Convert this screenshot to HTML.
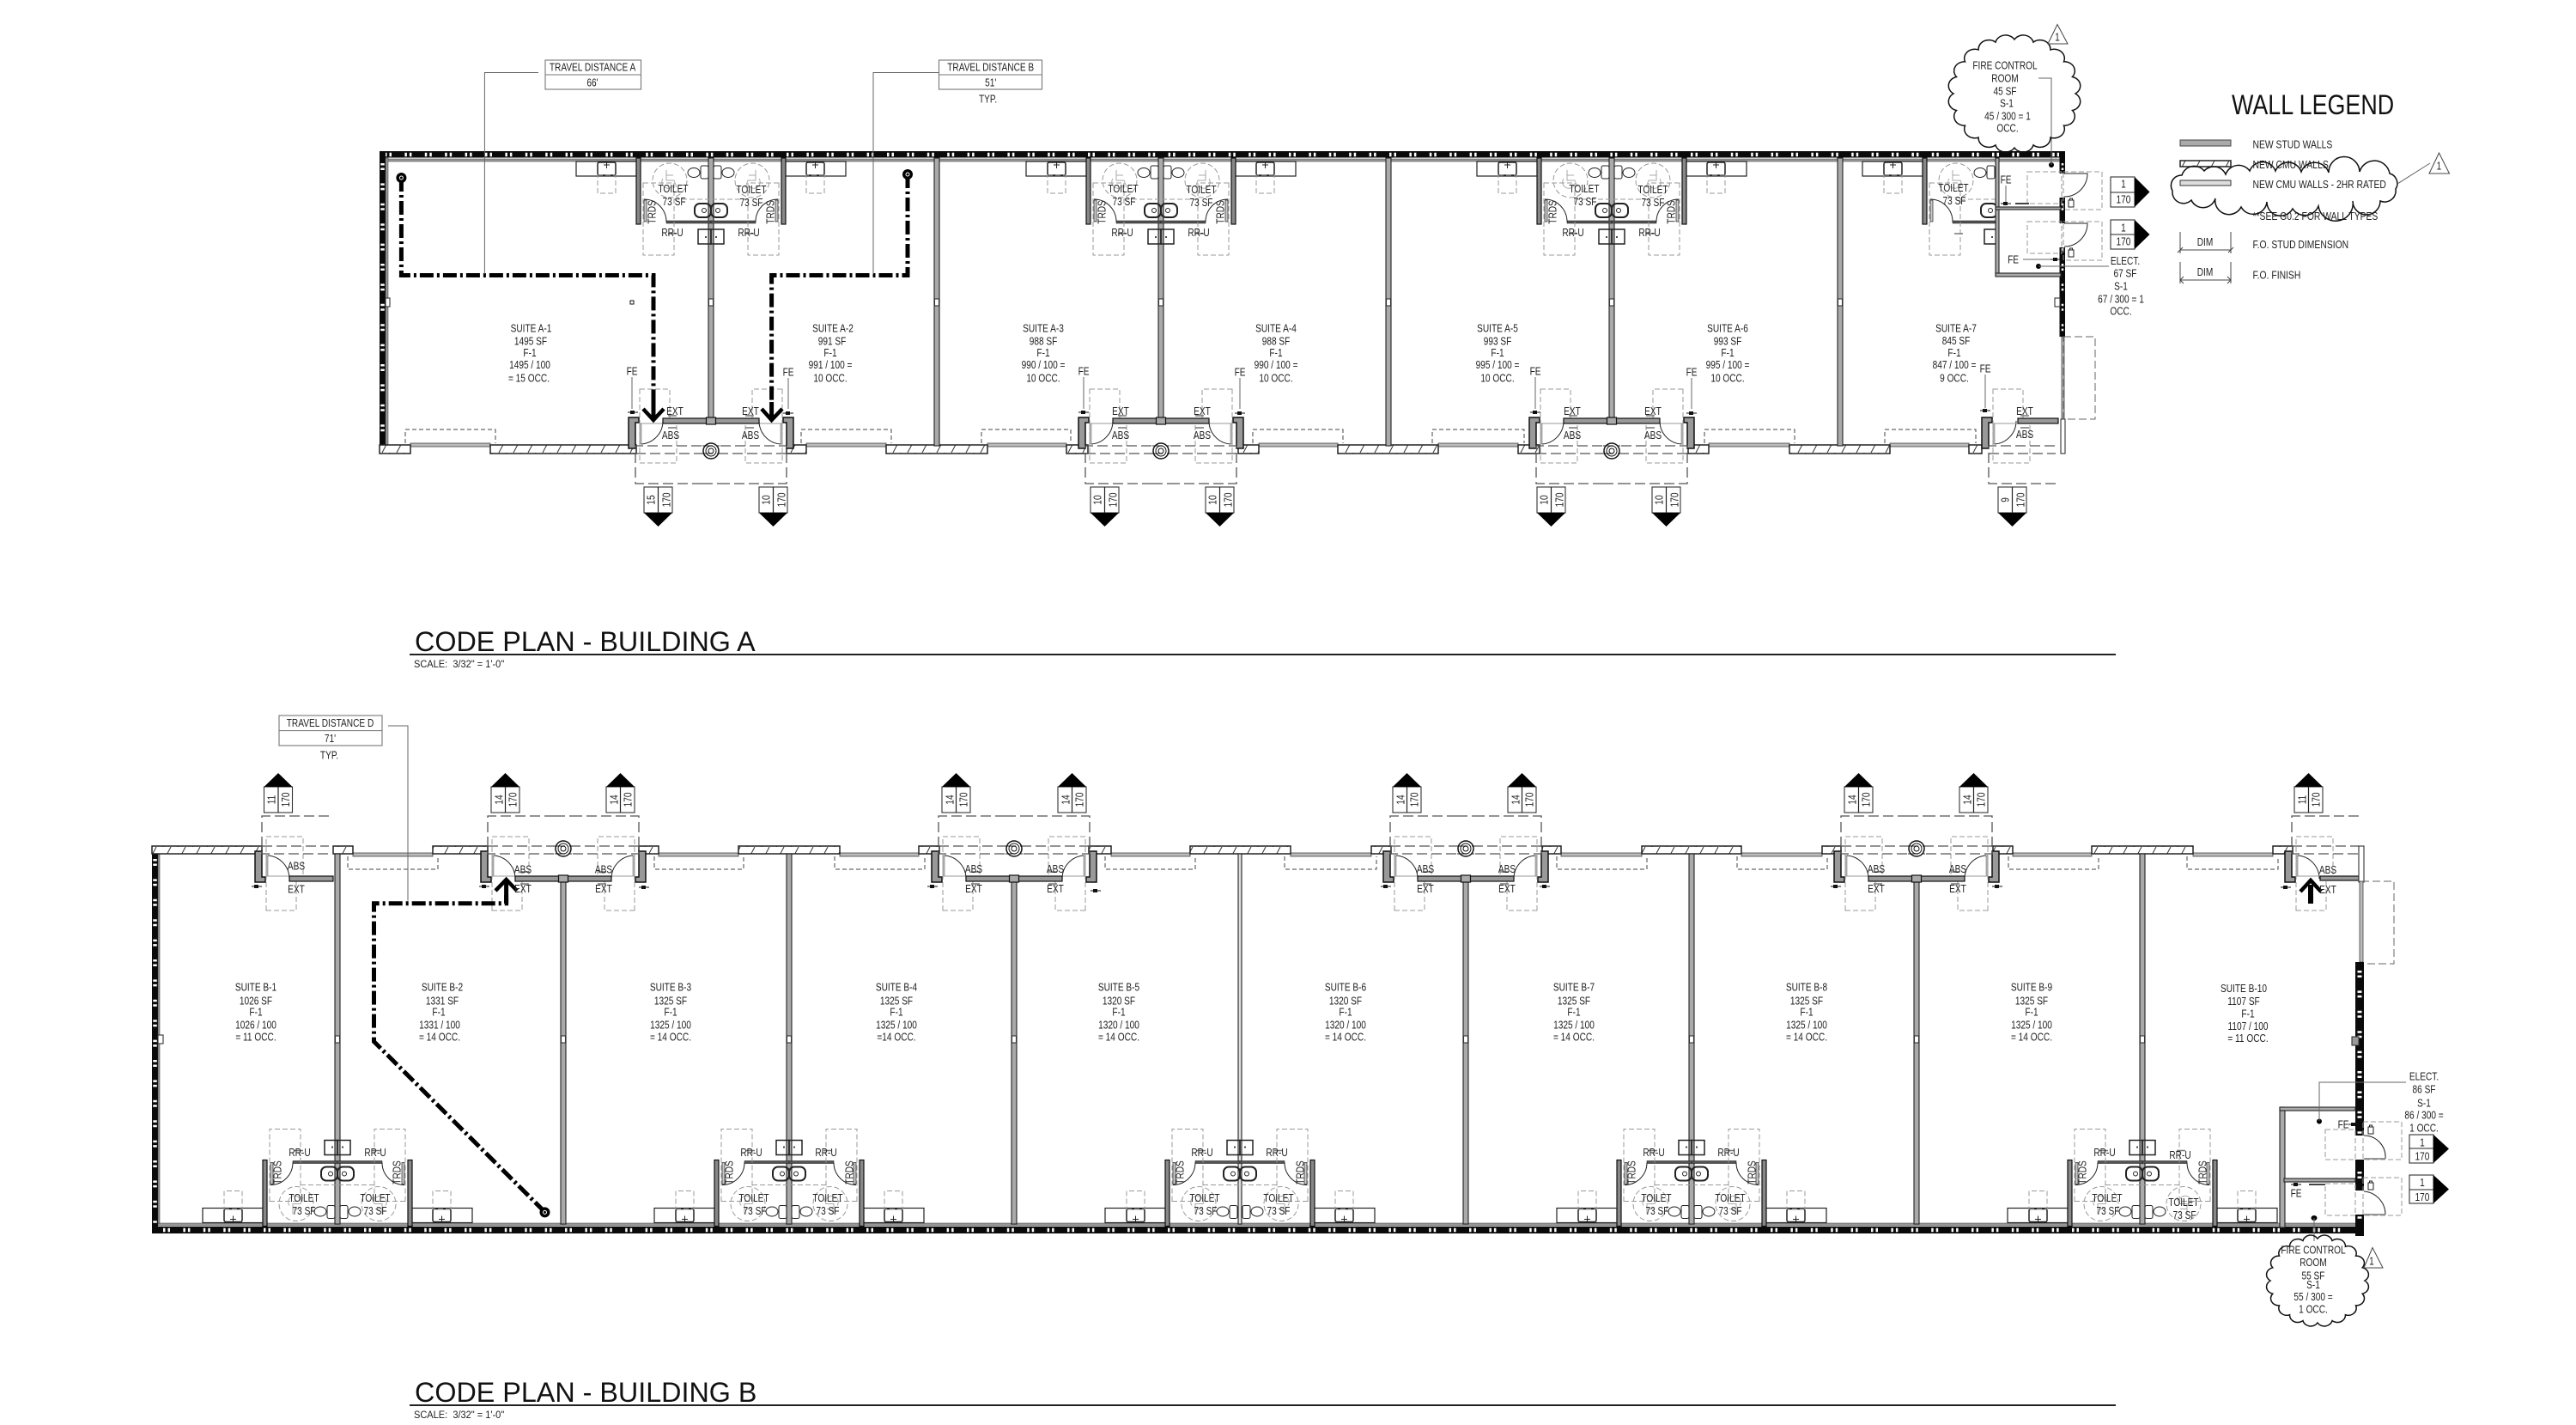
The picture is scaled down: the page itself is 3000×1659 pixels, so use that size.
<!DOCTYPE html>
<html><head><meta charset="utf-8"><title>Code Plan</title>
<style>
html,body{margin:0;padding:0;background:#fff}
svg{display:block}
text{font-family:"Liberation Sans",sans-serif;font-size:12.5px;fill:#222;text-anchor:middle;transform-box:fill-box;transform-origin:50% 50%;transform:scaleX(.81)}
text.l{text-anchor:start;transform-origin:0 50%;transform:scaleX(.83)}
text.big{font-size:32.3px;fill:#111;text-anchor:start;transform:none}
text.wl{font-size:32px;fill:#111;text-anchor:start;transform-origin:0 50%;transform:scaleX(.84)}
text.sc{font-size:12px;text-anchor:start;transform-origin:0 50%;transform:scaleX(.92)}
.d{fill:none;stroke:#999;stroke-width:1;stroke-dasharray:6 3}
.D{fill:none;stroke:#555;stroke-width:1.3;stroke-dasharray:12 5}
.w{fill:none;stroke:#444;stroke-width:1;stroke-dasharray:5 3}
.ln{fill:none;stroke:#222;stroke-width:1}
.ld{fill:none;stroke:#666;stroke-width:1}
.h{fill:url(#hatch);stroke:#222;stroke-width:1.5}
.win{fill:#bbb;stroke:#444;stroke-width:.8}
.wall{fill:#aaa;stroke:#222;stroke-width:1.1}
.blk{fill:#0a0a0a}
.tick{stroke:#fff;stroke-width:4.5;stroke-dasharray:2.5 3 2.5 15.4;fill:none}
.trv{fill:none;stroke:#000;stroke-width:5;stroke-dasharray:16 4 3 4}
.chev{fill:none;stroke:#000;stroke-width:4.5}
.sh{fill:none;stroke:#000;stroke-width:5}
.cl{fill:none;stroke:#111;stroke-width:1.5;vector-effect:non-scaling-stroke}
.bx{fill:#fff;stroke:#333;stroke-width:1.1}
</style></head><body>
<svg xmlns="http://www.w3.org/2000/svg" width="3000" height="1659" viewBox="0 0 3000 1659">
<defs>
<pattern id="hatch" width="17" height="17" patternUnits="userSpaceOnUse"><rect width="17" height="17" fill="#fff"/><path d="M3 17L12 0" stroke="#333" stroke-width="1"/></pattern>
<g id="m"><path d="M-6 0H6" stroke="#111" stroke-width="1"/><rect x="-3" y="-2" width="5" height="4" fill="#111"/></g>
<g id="dL">
<path d="M-96 486h12v6h-4v30h-8z" fill="#999" stroke="#111" stroke-width="1.5"/>
<rect x="-83" y="493" width="2" height="24" fill="#bbb" stroke="#666" stroke-width=".5"/>
<path class="ln" d="M-81 517A27 27 0 0 0 -56 490"/>
<rect class="d" x="-83" y="453" width="35" height="40"/>
<rect class="d" x="-83" y="493" width="43" height="46"/>
<path class="D" d="M-10 563H-88V519H-10M-88 528H-10"/>
</g>
<g id="sf"><rect x="-56" y="487" width="112" height="6" fill="#999" stroke="#111" stroke-width="1.2"/>
<rect x="-5.5" y="486" width="11" height="8" fill="#aaa" stroke="#111" stroke-width="1.2"/>
<path d="M-50 484h10M40 484h10M-50 498h10M40 498h10" stroke="#777" stroke-width="1.5"/>
<path class="D" d="M-10 563H10M-10 519H10M-10 528H10"/>
<g fill="none" stroke="#111"><circle cy="525" r="9" stroke-width="1.5"/><circle cy="525" r="6" stroke-width="1"/><circle cy="525" r="3" stroke-width="1"/></g>
</g>
<g id="sgA"><rect class="bx" width="33" height="30" y="567"/><path d="M16.500 567V597" stroke="#222" stroke-width="1.2"/><path d="M0 597H33L16.500 613z" fill="#000"/></g>
<g id="tL">
<rect x="-87" y="184" width="5" height="77" fill="#888" stroke="#111" stroke-width="1.2"/>
<rect x="-52" y="257" width="52" height="3" fill="#555" stroke="#111" stroke-width=".5"/>
<rect class="ln" x="-157" y="188" width="70" height="17" style="stroke-width:1.2"/>
<rect class="ln" x="-132" y="189" width="21" height="15" rx="2" style="stroke-width:1.5"/>
<path class="ln" d="M-121.500 189v7M-125 192h7"/>
<rect class="d" x="-132" y="204" width="21" height="21"/>
<circle class="d" cx="-48" cy="210" r="20"/>
<path d="M-52 198v12h9l3 8M-52 204h8M-56 208a7 7 0 1 0 12 8" fill="none" stroke="#aaa" stroke-width="1"/>
<ellipse class="ln" cx="-20" cy="201" rx="7" ry="5.500"/>
<rect class="ln" x="-12" y="193" width="9" height="15" rx="2"/>
<rect class="ln" x="-19" y="237" width="19" height="16" rx="6" style="stroke-width:2"/>
<circle class="ln" cx="-8" cy="245" r="2.500"/>
<rect class="ln" x="-15" y="267" width="15" height="17" style="stroke-width:1.500"/><circle cx="-6" cy="276" r="1" fill="#111"/>
<path class="ln" d="M-78 232A26 26 0 0 1 -52 258"/>
<rect x="-78" y="233" width="3" height="25" fill="#ccc" stroke="#222" stroke-width=".7"/>
<rect class="d" x="-79" y="213" width="36" height="84"/>
<path class="d" d="M-43 232H0"/>
<path d="M-50 272h10" stroke="#777" stroke-width="1.500"/>
</g>
<g id="lock"><rect x="-3" y="-4" width="6" height="8" class="ln"/><path class="ln" d="M-1.500 -4v-2h3v2"/></g>
</defs>

<!-- ============= BUILDING A ============= -->
<g id="bldgA">
<rect class="blk" x="442" y="176" width="1963" height="7.500"/>
<line class="tick" x1="448" y1="180" x2="2398" y2="180"/>
<rect class="blk" x="442" y="176" width="7" height="352"/>
<line class="tick" x1="445.500" y1="190" x2="445.500" y2="510"/>
<rect x="449" y="185" width="1950" height="3" fill="#999" stroke="#333" stroke-width=".5"/>
<rect x="449" y="184" width="3" height="334" fill="#999" stroke="#333" stroke-width=".5"/>
<rect class="bx" x="449" y="347" width="5" height="10"/>
<rect class="blk" x="734" y="350" width="4" height="4" style="fill:none;stroke:#111"/>

<g class="win-a">
<rect class="win" x="478" y="516" width="93" height="4"/><rect class="win" x="939" y="516" width="93" height="4"/><rect class="win" x="1150" y="516" width="92" height="4"/><rect class="win" x="1466" y="516" width="92" height="4"/><rect class="win" x="1675" y="516" width="93" height="4"/><rect class="win" x="1990" y="516" width="94" height="4"/><rect class="win" x="2201" y="516" width="92" height="4"/>
</g>
<rect class="h" x="442" y="518" width="36" height="10"/><rect class="h" x="571" y="518" width="170" height="10"/><rect class="h" x="916" y="518" width="23" height="10"/><rect class="h" x="1032" y="518" width="118" height="10"/><rect class="h" x="1242" y="518" width="25" height="10"/><rect class="h" x="1442" y="518" width="24" height="10"/><rect class="h" x="1558" y="518" width="117" height="10"/><rect class="h" x="1768" y="518" width="25" height="10"/><rect class="h" x="1966" y="518" width="24" height="10"/><rect class="h" x="2084" y="518" width="117" height="10"/><rect class="h" x="2293" y="518" width="15" height="10"/>
<path class="w" d="M472 516V500H577V516M933 516V500H1038V516M1143 516V500H1247V516M1459 516V500H1564V516M1668 516V500H1775V516M1985 516V500H2090V516M2195 516V500H2301V516"/>

<rect class="wall" x="825" y="184" width="6" height="303"/><rect class="wall" x="1349" y="184" width="6" height="303"/><rect class="wall" x="1874" y="184" width="6" height="303"/>
<rect class="wall" x="1088" y="184" width="6" height="335"/><rect class="wall" x="1614" y="184" width="6" height="335"/><rect class="wall" x="2140" y="184" width="6" height="335"/>
<rect class="bx" x="825.500" y="348" width="5" height="8"/><rect class="bx" x="1088.500" y="348" width="5" height="8"/><rect class="bx" x="1349.500" y="348" width="5" height="8"/><rect class="bx" x="1614.500" y="348" width="5" height="8"/><rect class="bx" x="1874.500" y="348" width="5" height="8"/><rect class="bx" x="2140.500" y="348" width="5" height="8"/>

<use href="#tL" transform="translate(828,0)"/><use href="#tL" transform="translate(828,0) scale(-1,1)"/>
<use href="#tL" transform="translate(1352,0)"/><use href="#tL" transform="translate(1352,0) scale(-1,1)"/>
<use href="#tL" transform="translate(1877,0)"/><use href="#tL" transform="translate(1877,0) scale(-1,1)"/>
<use href="#tL" transform="translate(2326,0)"/>

<use href="#dL" transform="translate(828,0)"/><use href="#dL" transform="translate(828,0) scale(-1,1)"/><use href="#sf" x="828"/>
<use href="#dL" transform="translate(1352,0)"/><use href="#dL" transform="translate(1352,0) scale(-1,1)"/><use href="#sf" x="1352"/>
<use href="#dL" transform="translate(1877,0)"/><use href="#dL" transform="translate(1877,0) scale(-1,1)"/><use href="#sf" x="1877"/>
<use href="#dL" transform="translate(2404,0)"/>
<rect x="2350" y="487" width="47" height="6" fill="#999" stroke="#111" stroke-width="1.200"/>
<path d="M2353 484h10M2353 498h10" stroke="#777" stroke-width="1.500"/>

<use href="#sgA" x="750"/><use href="#sgA" x="884"/><use href="#sgA" x="1270"/><use href="#sgA" x="1404"/><use href="#sgA" x="1790"/><use href="#sgA" x="1924"/><use href="#sgA" x="2327"/>

<!-- right end A -->
<rect class="blk" x="2398.500" y="176" width="6.500" height="216"/>
<line class="tick" x1="2402" y1="190" x2="2402" y2="390" style="stroke-width:2.500"/>
<rect x="2398" y="202" width="8" height="28" fill="#fff"/><rect x="2398" y="260" width="8" height="28" fill="#fff"/>
<rect class="bx" x="2393" y="347" width="6" height="10"/>
<rect class="win" x="2401" y="392" width="3" height="96"/>
<rect class="bx" x="2400" y="488" width="5" height="40"/>
<rect class="d" x="2403" y="392" width="37" height="96" style="stroke:#666;stroke-dasharray:9 4"/>
<rect class="wall" x="2324" y="184" width="4" height="137"/>
<rect class="wall" x="2324" y="241" width="76" height="3"/>
<rect class="wall" x="2324" y="318" width="76" height="4"/>
<path class="ln" d="M2404 202H2431A27 27 0 0 1 2404 229M2404 260H2431A27 27 0 0 1 2404 287"/>
<rect class="d" x="2361" y="200" width="40" height="37"/><rect class="d" x="2403" y="200" width="45" height="44"/>
<rect class="d" x="2361" y="258" width="40" height="37"/><rect class="d" x="2403" y="258" width="45" height="45"/>
<use href="#lock" x="2412" y="237"/><use href="#lock" x="2412" y="295"/>
<circle cx="2389" cy="192" r="3" fill="#000"/><circle cx="2374" cy="310" r="3" fill="#000"/>
<path class="ld" d="M2374 91H2389V192M2456 310H2374M2336 216V236M2356 302H2393M2312 436V475"/>
<rect x="2347" y="236" width="16" height="2" fill="#444"/>
<use href="#m" x="2336" y="237"/><use href="#m" x="2394" y="302"/><use href="#m" x="2312" y="478"/>
<g id="elsA"><rect class="bx" x="2458" y="206" width="28" height="35"/><path d="M2458 224H2486" stroke="#222"/><path d="M2486 206V241L2503.500 223.500z" fill="#000"/>
<rect class="bx" x="2458" y="256" width="28" height="34"/><path d="M2458 273H2486" stroke="#222"/><path d="M2486 256V290L2503.500 273z" fill="#000"/></g>

<!-- FE leaders -->
<path class="ld" d="M736 439V476M918 440V476M1262 439V476M1444 440V476M1788 439V476M1970 440V476"/>
<use href="#m" x="737" y="480"/><use href="#m" x="918" y="481"/><use href="#m" x="1262" y="480"/><use href="#m" x="1444" y="481"/><use href="#m" x="1788" y="480"/><use href="#m" x="1970" y="481"/>

<!-- travel paths A -->
<path class="trv" d="M467.400 207V320.500H761V468"/><path class="sh" d="M761 468V487"/><path class="chev" d="M749 476L761 489L773 476"/>
<path class="trv" d="M1057 203V320.500H898.600V468"/><path class="sh" d="M898.600 468V487"/><path class="chev" d="M887 476L898.600 489L911 476"/>
<circle cx="467.400" cy="207" r="6" fill="#000"/><circle cx="1057" cy="203" r="6" fill="#000"/>
<circle cx="467.400" cy="207" r="2" fill="none" stroke="#fff"/><circle cx="1057" cy="203" r="2" fill="none" stroke="#fff"/>

<!-- travel callouts -->
<rect class="bx" x="635" y="70" width="111.500" height="34" style="stroke:#777"/><path d="M635 87H746.500" stroke="#777"/>
<rect class="bx" x="1093.500" y="70" width="120" height="34" style="stroke:#777"/><path d="M1093.500 87H1213.500" stroke="#777"/>
<path class="ld" d="M627 84.500H564.400V319M1093.500 84.500H1017V319"/>
</g>

<text x="690" y="82.500">TRAVEL DISTANCE A</text><text x="690" y="100.500">66'</text>
<text x="1153.700" y="82.500">TRAVEL DISTANCE B</text><text x="1153.700" y="100.500">51'</text><text x="1150.600" y="119.500">TYP.</text>

<text x="618.500" y="386.500">SUITE A-1</text><text x="618" y="401.500">1495 SF</text><text x="617" y="415">F-1</text><text x="617" y="429">1495 / 100</text><text x="616" y="444.500">= 15 OCC.</text>
<text x="970" y="386.500">SUITE A-2</text><text x="969" y="401.500">991 SF</text><text x="967" y="415">F-1</text><text x="967" y="429">991 / 100 =</text><text x="967" y="444.500">10 OCC.</text>
<text x="1215" y="386.500">SUITE A-3</text><text x="1215" y="401.500">988 SF</text><text x="1215" y="415">F-1</text><text x="1215" y="429">990 / 100 =</text><text x="1215" y="444.500">10 OCC.</text>
<text x="1486" y="386.500">SUITE A-4</text><text x="1486" y="401.500">988 SF</text><text x="1486" y="415">F-1</text><text x="1486" y="429">990 / 100 =</text><text x="1486" y="444.500">10 OCC.</text>
<text x="1744" y="386.500">SUITE A-5</text><text x="1744" y="401.500">993 SF</text><text x="1744" y="415">F-1</text><text x="1744" y="429">995 / 100 =</text><text x="1744" y="444.500">10 OCC.</text>
<text x="2012" y="386.500">SUITE A-6</text><text x="2012" y="401.500">993 SF</text><text x="2012" y="415">F-1</text><text x="2012" y="429">995 / 100 =</text><text x="2012" y="444.500">10 OCC.</text>
<text x="2278" y="386.500">SUITE A-7</text><text x="2278" y="401">845 SF</text><text x="2276" y="415">F-1</text><text x="2276" y="429">847 / 100 =</text><text x="2276" y="444.500">9 OCC.</text>

<!-- toilets A labels -->
<text x="784" y="224">TOILET</text><text x="785" y="239">73 SF</text><text x="875" y="225">TOILET</text><text x="875" y="240">73 SF</text>
<text x="783" y="275">RR-U</text><text x="872" y="275">RR-U</text>
<g transform="translate(759,247) rotate(-90)"><text y="4.500">TRDS</text></g><g transform="translate(897,247) rotate(-90)"><text y="4.500">TRDS</text></g>
<text x="1308" y="224">TOILET</text><text x="1309" y="239">73 SF</text><text x="1399" y="225">TOILET</text><text x="1399" y="240">73 SF</text>
<text x="1307" y="275">RR-U</text><text x="1396" y="275">RR-U</text>
<g transform="translate(1283,247) rotate(-90)"><text y="4.500">TRDS</text></g><g transform="translate(1421,247) rotate(-90)"><text y="4.500">TRDS</text></g>
<text x="1845" y="224">TOILET</text><text x="1846" y="239">73 SF</text><text x="1925" y="225">TOILET</text><text x="1925" y="240">73 SF</text>
<text x="1832" y="275">RR-U</text><text x="1921" y="275">RR-U</text>
<g transform="translate(1808,247) rotate(-90)"><text y="4.500">TRDS</text></g><g transform="translate(1946,247) rotate(-90)"><text y="4.500">TRDS</text></g>
<text x="2275" y="223">TOILET</text><text x="2276" y="238">73 SF</text>

<!-- door labels A -->
<text x="786" y="483">EXT</text><text x="874" y="483">EXT</text><text x="781" y="511">ABS</text><text x="874" y="511">ABS</text>
<text x="1305" y="483">EXT</text><text x="1400" y="483">EXT</text><text x="1305" y="511">ABS</text><text x="1400" y="511">ABS</text>
<text x="1831" y="483">EXT</text><text x="1925" y="483">EXT</text><text x="1831" y="511">ABS</text><text x="1925" y="511">ABS</text>
<text x="2358" y="483">EXT</text><text x="2358" y="510">ABS</text>
<text x="736" y="436.500">FE</text><text x="918" y="437.500">FE</text><text x="1262" y="436.500">FE</text><text x="1444" y="437.500">FE</text><text x="1788" y="436.500">FE</text><text x="1970" y="437.500">FE</text><text x="2312" y="433.500">FE</text>
<text x="2336" y="213.500">FE</text><text x="2344.500" y="306.500">FE</text>

<!-- exit numbers A -->
<g transform="translate(758,582) rotate(-90)"><text y="4.500">15</text></g><g transform="translate(776,582) rotate(-90)"><text y="4.500">170</text></g>
<g transform="translate(892,582) rotate(-90)"><text y="4.500">10</text></g><g transform="translate(910,582) rotate(-90)"><text y="4.500">170</text></g>
<g transform="translate(1278,582) rotate(-90)"><text y="4.500">10</text></g><g transform="translate(1296,582) rotate(-90)"><text y="4.500">170</text></g>
<g transform="translate(1412,582) rotate(-90)"><text y="4.500">10</text></g><g transform="translate(1430,582) rotate(-90)"><text y="4.500">170</text></g>
<g transform="translate(1798,582) rotate(-90)"><text y="4.500">10</text></g><g transform="translate(1816,582) rotate(-90)"><text y="4.500">170</text></g>
<g transform="translate(1932,582) rotate(-90)"><text y="4.500">10</text></g><g transform="translate(1950,582) rotate(-90)"><text y="4.500">170</text></g>
<g transform="translate(2335,582) rotate(-90)"><text y="4.500">9</text></g><g transform="translate(2353,582) rotate(-90)"><text y="4.500">170</text></g>

<!-- elect & fire room A -->
<text x="2475" y="308">ELECT.</text><text x="2475" y="322.500">67 SF</text><text x="2470" y="337.500">S-1</text><text x="2470" y="352.500">67 / 300 = 1</text><text x="2470" y="366.500">OCC.</text>
<text x="2473" y="218.500">1</text><text x="2473" y="236.500">170</text><text x="2473" y="269.500">1</text><text x="2473" y="285.500">170</text>
<path class="cl" transform="translate(2346,109) scale(.71,.63)" d="M100 0A17 17 0 0 1 95 31A17 17 0 0 1 81 59A17 17 0 0 1 59 81A17 17 0 0 1 31 95A17 17 0 0 1 0 100A17 17 0 0 1 -31 95A17 17 0 0 1 -59 81A17 17 0 0 1 -81 59A17 17 0 0 1 -95 31A17 17 0 0 1 -100 0A17 17 0 0 1 -95 -31A17 17 0 0 1 -81 -59A17 17 0 0 1 -59 -81A17 17 0 0 1 -31 -95A17 17 0 0 1 0 -100A17 17 0 0 1 31 -95A17 17 0 0 1 59 -81A17 17 0 0 1 81 -59A17 17 0 0 1 95 -31A17 17 0 0 1 100 0Z"/>
<text x="2335" y="80.500">FIRE CONTROL</text><text x="2335" y="95.500">ROOM</text><text x="2335" y="110.500">45 SF</text><text x="2337" y="124.500">S-1</text><text x="2338" y="139.500">45 / 300 = 1</text><text x="2338" y="153.500">OCC.</text>
<path d="M2396 28.500L2385 51H2408Z" fill="none" stroke="#444"/><text x="2396" y="47.500">1</text>

<!-- legend -->
<text class="wl" x="2599" y="133">WALL LEGEND</text>
<rect x="2539" y="163" width="59" height="7" fill="#aaa" stroke="#444"/>
<rect class="h" x="2539" y="187" width="59" height="7"/>
<rect x="2539" y="210" width="59" height="6" fill="#ddd" stroke="#333"/>
<text class="l" x="2623.500" y="172.500">NEW STUD WALLS</text>
<text class="l" x="2623.500" y="196">NEW CMU WALLS</text>
<text class="l" x="2623.500" y="219">NEW CMU WALLS - 2HR RATED</text>
<text class="l" x="2623.500" y="256">**SEE G0.2 FOR WALL TYPES</text>
<text class="l" x="2623.500" y="289">F.O. STUD DIMENSION</text>
<text class="l" x="2623.500" y="324.500">F.O. FINISH</text>
<text x="2568" y="286">DIM</text><text x="2568" y="321">DIM</text>
<path class="ln" d="M2539 291H2598M2539 270V295M2598 270V295M2539 326H2598M2539 305V330M2598 305V330M2536 294L2542 288M2595 294L2601 288M2543 322L2539 326L2543 330M2594 322L2598 326L2594 330" style="stroke:#444"/>
<path class="cl" d="M2530 222A12 12 0 0 1 2541 204A15 15 0 0 1 2567 199A15 15 0 0 1 2592 203A16 16 0 0 1 2620 199A16 16 0 0 1 2650 199A16 16 0 0 1 2680 200A17 17 0 0 1 2712 201A18 18 0 0 1 2748 200A18 18 0 0 1 2783 202A12 12 0 0 1 2790 220A13 13 0 0 1 2772 234A16 16 0 0 1 2740 234A20 20 0 0 1 2700 240A17 17 0 0 1 2670 243A16 16 0 0 1 2640 235A16 16 0 0 1 2610 241A16 16 0 0 1 2580 231A15 15 0 0 1 2552 233A13 13 0 0 1 2530 222Z"/>
<path class="ld" d="M2792 214L2830 190"/>
<path d="M2840.500 178L2829 202H2852.500Z" fill="none" stroke="#444"/><text x="2840.500" y="197.500">1</text>

<text class="big" x="483" y="758">CODE PLAN - BUILDING A</text>
<rect x="477" y="761" width="1987" height="2" fill="#222"/>
<text class="sc" x="482" y="777">SCALE:&#160;&#160;3/32" = 1'-0"</text>

<!-- ============= BUILDING B ============= -->
<g id="bldgB">
<rect class="blk" x="177" y="1428" width="2576" height="8"/>
<line class="tick" x1="190" y1="1432" x2="2740" y2="1432"/>
<rect class="blk" x="177" y="985" width="7" height="451"/>
<line class="tick" x1="180.500" y1="1000" x2="180.500" y2="1425"/>
<rect x="184" y="1424" width="2560" height="3" fill="#999" stroke="#333" stroke-width=".5"/>
<rect x="184" y="994" width="2" height="430" fill="#999" stroke="#333" stroke-width=".5"/>
<rect class="bx" x="184" y="1205" width="6" height="10"/>

<rect class="win" x="411" y="993" width="93" height="4"/><rect class="win" x="767" y="993" width="93" height="4"/><rect class="win" x="978" y="993" width="92" height="4"/><rect class="win" x="1294" y="993" width="92" height="4"/><rect class="win" x="1503" y="993" width="94" height="4"/><rect class="win" x="1818" y="993" width="94" height="4"/><rect class="win" x="2028" y="993" width="94" height="4"/><rect class="win" x="2344" y="993" width="92" height="4"/><rect class="win" x="2554" y="993" width="93" height="4"/>
<rect class="h" x="177" y="985" width="128" height="9"/><rect class="h" x="388" y="985" width="23" height="9"/><rect class="h" x="504" y="985" width="64" height="9"/><rect class="h" x="744" y="985" width="23" height="9"/><rect class="h" x="860" y="985" width="118" height="9"/><rect class="h" x="1070" y="985" width="24" height="9"/><rect class="h" x="1268" y="985" width="26" height="9"/><rect class="h" x="1386" y="985" width="117" height="9"/><rect class="h" x="1597" y="985" width="23" height="9"/><rect class="h" x="1796" y="985" width="22" height="9"/><rect class="h" x="1912" y="985" width="116" height="9"/><rect class="h" x="2122" y="985" width="22" height="9"/><rect class="h" x="2321" y="985" width="23" height="9"/><rect class="h" x="2436" y="985" width="118" height="9"/><rect class="h" x="2647" y="985" width="23" height="9"/>
<path class="w" d="M405 997V1012H510V997M762 997V1012H866V997M972 997V1012H1077V997M1287 997V1012H1392V997M1496 997V1012H1603V997M1813 997V1012H1918V997M2023 997V1012H2128V997M2339 997V1012H2444V997M2547 997V1012H2653V997"/>

<rect class="wall" x="390" y="994" width="6" height="431"/><rect class="wall" x="916" y="994" width="6" height="431"/><rect class="wall" x="1442" y="994" width="4" height="431" style="fill:#ddd"/><rect class="wall" x="1967" y="994" width="6" height="431"/><rect class="wall" x="2492" y="994" width="6" height="431"/>
<rect class="wall" x="653" y="1027" width="6" height="398"/><rect class="wall" x="1178" y="1027" width="6" height="398"/><rect class="wall" x="1704" y="1027" width="6" height="398"/><rect class="wall" x="2229" y="1027" width="6" height="398"/>
<rect class="bx" x="390.500" y="1206" width="5" height="8"/><rect class="bx" x="653.500" y="1206" width="5" height="8"/><rect class="bx" x="916.500" y="1206" width="5" height="8"/><rect class="bx" x="1178.500" y="1206" width="5" height="8"/><rect class="bx" x="1704.500" y="1206" width="5" height="8"/><rect class="bx" x="1967.500" y="1206" width="5" height="8"/><rect class="bx" x="2229.500" y="1206" width="5" height="8"/><rect class="bx" x="2492.500" y="1206" width="5" height="8"/>

<use href="#tL" transform="translate(393,1611.500) scale(1,-1)"/><use href="#tL" transform="translate(393,1611.500) scale(-1,-1)"/>
<use href="#tL" transform="translate(919,1611.500) scale(1,-1)"/><use href="#tL" transform="translate(919,1611.500) scale(-1,-1)"/>
<use href="#tL" transform="translate(1444,1611.500) scale(1,-1)"/><use href="#tL" transform="translate(1444,1611.500) scale(-1,-1)"/>
<use href="#tL" transform="translate(1970,1611.500) scale(1,-1)"/><use href="#tL" transform="translate(1970,1611.500) scale(-1,-1)"/>
<use href="#tL" transform="translate(2495,1611.500) scale(1,-1)"/><use href="#tL" transform="translate(2495,1611.500) scale(-1,-1)"/>

<use href="#dL" transform="translate(393,1513) scale(1,-1)"/>
<rect x="337" y="1020" width="51" height="6" fill="#999" stroke="#111" stroke-width="1.200"/>
<use href="#dL" transform="translate(656,1513) scale(1,-1)"/><use href="#dL" transform="translate(656,1513) scale(-1,-1)"/><use href="#sf" transform="translate(656,1513) scale(1,-1)"/>
<use href="#dL" transform="translate(1181,1513) scale(1,-1)"/><use href="#dL" transform="translate(1181,1513) scale(-1,-1)"/><use href="#sf" transform="translate(1181,1513) scale(1,-1)"/>
<use href="#dL" transform="translate(1707,1513) scale(1,-1)"/><use href="#dL" transform="translate(1707,1513) scale(-1,-1)"/><use href="#sf" transform="translate(1707,1513) scale(1,-1)"/>
<use href="#dL" transform="translate(2232,1513) scale(1,-1)"/><use href="#dL" transform="translate(2232,1513) scale(-1,-1)"/><use href="#sf" transform="translate(2232,1513) scale(1,-1)"/>
<use href="#dL" transform="translate(2757,1513) scale(1,-1)"/>
<rect x="2702" y="1020" width="45" height="5" fill="#999" stroke="#111" stroke-width="1.200"/>

<use href="#sgA" transform="translate(307.500,1513) scale(1,-1)"/><use href="#sgA" transform="translate(572,1513) scale(1,-1)"/><use href="#sgA" transform="translate(706,1513) scale(1,-1)"/><use href="#sgA" transform="translate(1097,1513) scale(1,-1)"/><use href="#sgA" transform="translate(1232,1513) scale(1,-1)"/><use href="#sgA" transform="translate(1622,1513) scale(1,-1)"/><use href="#sgA" transform="translate(1756,1513) scale(1,-1)"/><use href="#sgA" transform="translate(2148,1513) scale(1,-1)"/><use href="#sgA" transform="translate(2282,1513) scale(1,-1)"/><use href="#sgA" transform="translate(2672,1513) scale(1,-1)"/>

<use href="#m" x="299" y="1032"/><use href="#m" x="564" y="1032"/><use href="#m" x="750" y="1033"/><use href="#m" x="1086" y="1032"/><use href="#m" x="1276" y="1037"/><use href="#m" x="1614" y="1032"/><use href="#m" x="1799" y="1032"/><use href="#m" x="2138" y="1032"/><use href="#m" x="2326" y="1032"/><use href="#m" x="2662" y="1033"/>

<!-- right end B -->
<rect class="bx" x="2747" y="985" width="6" height="42"/>
<rect class="win" x="2748" y="1026" width="4" height="94"/>
<path d="M2750 1026H2788V1122H2750" fill="none" stroke="#666" stroke-dasharray="9 4"/>
<rect class="blk" x="2743" y="1120" width="10" height="319"/>
<line class="tick" x1="2748" y1="1130" x2="2748" y2="1430" style="stroke-width:5"/>
<rect x="2742" y="1322" width="12" height="28" fill="#fff"/><rect x="2742" y="1386" width="12" height="28" fill="#fff"/>
<rect class="bx" x="2739" y="1207" width="8" height="10" style="fill:#999"/>
<rect class="wall" x="2655" y="1289" width="6" height="140"/><rect class="wall" x="2655" y="1289" width="88" height="4"/><rect class="wall" x="2660" y="1372" width="83" height="4"/>
<path class="ln" d="M2778 1349A25 25 0 0 0 2753 1322M2778 1414A27 27 0 0 0 2753 1387"/>
<path d="M2753 1349H2778M2753 1414H2778" stroke="#777" stroke-width="1.500"/>
<rect class="d" x="2708" y="1315" width="35" height="35"/><rect class="d" x="2752" y="1306" width="45" height="44"/>
<rect class="d" x="2708" y="1378" width="35" height="37"/><rect class="d" x="2752" y="1371" width="45" height="44"/>
<use href="#lock" x="2761" y="1316"/><use href="#lock" x="2761" y="1381"/>
<circle cx="2701" cy="1305.500" r="3" fill="#000"/><ellipse cx="2695" cy="1418" rx="3.500" ry="3" fill="#000"/>
<path class="ld" d="M2802 1260H2701V1305M2695 1418V1445"/>
<rect x="2689" y="1378" width="19" height="2" fill="#444"/>
<use href="#m" x="2674" y="1379"/><use href="#m" x="2741" y="1309"/>
<rect class="bx" x="2806" y="1321" width="28" height="33"/><path d="M2806 1337H2834" stroke="#222"/><path d="M2834 1321V1354L2852 1337.500z" fill="#000"/>
<rect class="bx" x="2806" y="1368" width="28" height="33"/><path d="M2806 1385H2834" stroke="#222"/><path d="M2834 1368V1401L2852 1384.500z" fill="#000"/>
<path class="cl" transform="translate(2699,1491) scale(.55,.49)" d="M100 0A17 17 0 0 1 95 31A17 17 0 0 1 81 59A17 17 0 0 1 59 81A17 17 0 0 1 31 95A17 17 0 0 1 0 100A17 17 0 0 1 -31 95A17 17 0 0 1 -59 81A17 17 0 0 1 -81 59A17 17 0 0 1 -95 31A17 17 0 0 1 -100 0A17 17 0 0 1 -95 -31A17 17 0 0 1 -81 -59A17 17 0 0 1 -59 -81A17 17 0 0 1 -31 -95A17 17 0 0 1 0 -100A17 17 0 0 1 31 -95A17 17 0 0 1 59 -81A17 17 0 0 1 81 -59A17 17 0 0 1 95 -31A17 17 0 0 1 100 0Z"/>
<path d="M2763 1452.500L2753 1476H2775Z" fill="none" stroke="#444"/>

<!-- travel B -->
<path class="trv" d="M634.500 1411L435.500 1212.600V1051.800H589.600V1042"/><path class="sh" d="M589.600 1052V1027"/><path class="chev" d="M577 1037L589.600 1024L602 1037"/>
<circle cx="634.500" cy="1411.400" r="6" fill="#000"/><circle cx="634.500" cy="1411.400" r="2" fill="none" stroke="#fff"/>
<path d="M2691 1052V1030" stroke="#000" stroke-width="6"/><path class="chev" d="M2679 1038L2691 1025L2703 1038"/>

<rect class="bx" x="325" y="833" width="120" height="35" style="stroke:#777"/><path d="M325 850.600H445" stroke="#777"/>
<path class="ld" d="M452 845H475V1048.600"/>
</g>

<text x="384.500" y="846">TRAVEL DISTANCE D</text><text x="384.500" y="864">71'</text><text x="383.500" y="883.500">TYP.</text>

<text x="298" y="1153.500">SUITE B-1</text><text x="298" y="1169.500">1026 SF</text><text x="298" y="1182.500">F-1</text><text x="298" y="1197.500">1026 / 100</text><text x="298" y="1211.500">= 11 OCC.</text>
<text x="515" y="1153.500">SUITE B-2</text><text x="515" y="1169.500">1331 SF</text><text x="511" y="1182.500">F-1</text><text x="512" y="1197.500">1331 / 100</text><text x="512" y="1211.500">= 14 OCC.</text>
<text x="781" y="1153.500">SUITE B-3</text><text x="781" y="1169.500">1325 SF</text><text x="781" y="1182.500">F-1</text><text x="781" y="1197.500">1325 / 100</text><text x="781" y="1211.500">= 14 OCC.</text>
<text x="1044" y="1153.500">SUITE B-4</text><text x="1044" y="1169.500">1325 SF</text><text x="1044" y="1182.500">F-1</text><text x="1044" y="1197.500">1325 / 100</text><text x="1044" y="1211.500">=14 OCC.</text>
<text x="1303" y="1153.500">SUITE B-5</text><text x="1303" y="1169.500">1320 SF</text><text x="1303" y="1182.500">F-1</text><text x="1303" y="1197.500">1320 / 100</text><text x="1303" y="1211.500">= 14 OCC.</text>
<text x="1567" y="1153.500">SUITE B-6</text><text x="1567" y="1169.500">1320 SF</text><text x="1567" y="1182.500">F-1</text><text x="1567" y="1197.500">1320 / 100</text><text x="1567" y="1211.500">= 14 OCC.</text>
<text x="1833" y="1153.500">SUITE B-7</text><text x="1833" y="1169.500">1325 SF</text><text x="1833" y="1182.500">F-1</text><text x="1833" y="1197.500">1325 / 100</text><text x="1833" y="1211.500">= 14 OCC.</text>
<text x="2104" y="1153.500">SUITE B-8</text><text x="2104" y="1169.500">1325 SF</text><text x="2104" y="1182.500">F-1</text><text x="2104" y="1197.500">1325 / 100</text><text x="2104" y="1211.500">= 14 OCC.</text>
<text x="2366" y="1153.500">SUITE B-9</text><text x="2366" y="1169.500">1325 SF</text><text x="2366" y="1182.500">F-1</text><text x="2366" y="1197.500">1325 / 100</text><text x="2366" y="1211.500">= 14 OCC.</text>
<text x="2613" y="1155">SUITE B-10</text><text x="2613" y="1170">1107 SF</text><text x="2618" y="1184.500">F-1</text><text x="2618" y="1199">1107 / 100</text><text x="2618" y="1213">= 11 OCC.</text>

<!-- toilets B labels -->
<text x="354" y="1399">TOILET</text><text x="354" y="1414">73 SF</text><text x="437" y="1399">TOILET</text><text x="437" y="1414">73 SF</text><text x="349" y="1346">RR-U</text><text x="437" y="1346">RR-U</text>
<g transform="translate(323,1365) rotate(-90)"><text y="4.500">TRDS</text></g><g transform="translate(462,1365) rotate(-90)"><text y="4.500">TRDS</text></g>
<text x="878" y="1399">TOILET</text><text x="879" y="1414">73 SF</text><text x="964" y="1399">TOILET</text><text x="964" y="1414">73 SF</text><text x="875" y="1346">RR-U</text><text x="962" y="1346">RR-U</text>
<g transform="translate(849,1365) rotate(-90)"><text y="4.500">TRDS</text></g><g transform="translate(989,1365) rotate(-90)"><text y="4.500">TRDS</text></g>
<text x="1403" y="1399">TOILET</text><text x="1404" y="1414">73 SF</text><text x="1489" y="1399">TOILET</text><text x="1489" y="1414">73 SF</text><text x="1400" y="1346">RR-U</text><text x="1487" y="1346">RR-U</text>
<g transform="translate(1374,1365) rotate(-90)"><text y="4.500">TRDS</text></g><g transform="translate(1514,1365) rotate(-90)"><text y="4.500">TRDS</text></g>
<text x="1929" y="1399">TOILET</text><text x="1930" y="1414">73 SF</text><text x="2015" y="1399">TOILET</text><text x="2015" y="1414">73 SF</text><text x="1926" y="1346">RR-U</text><text x="2013" y="1346">RR-U</text>
<g transform="translate(1900,1365) rotate(-90)"><text y="4.500">TRDS</text></g><g transform="translate(2040,1365) rotate(-90)"><text y="4.500">TRDS</text></g>
<text x="2454" y="1399">TOILET</text><text x="2455" y="1414">73 SF</text><text x="2543" y="1404">TOILET</text><text x="2544" y="1419">73 SF</text><text x="2451" y="1346">RR-U</text><text x="2539" y="1349">RR-U</text>
<g transform="translate(2425,1365) rotate(-90)"><text y="4.500">TRDS</text></g><g transform="translate(2565,1365) rotate(-90)"><text y="4.500">TRDS</text></g>

<!-- door labels B -->
<text x="345" y="1012.500">ABS</text><text x="345" y="1039.500">EXT</text>
<text x="609" y="1016.500">ABS</text><text x="609" y="1039">EXT</text><text x="703" y="1016.500">ABS</text><text x="703" y="1039">EXT</text>
<text x="1134" y="1016">ABS</text><text x="1134" y="1039">EXT</text><text x="1229" y="1016">ABS</text><text x="1229" y="1039">EXT</text>
<text x="1660" y="1016">ABS</text><text x="1660" y="1039">EXT</text><text x="1755" y="1016">ABS</text><text x="1755" y="1039">EXT</text>
<text x="2185" y="1016">ABS</text><text x="2185" y="1039">EXT</text><text x="2280" y="1016">ABS</text><text x="2280" y="1039">EXT</text>
<text x="2711" y="1017">ABS</text><text x="2711" y="1040">EXT</text>

<!-- exit numbers B -->
<g transform="translate(316,931) rotate(-90)"><text y="4.500">11</text></g><g transform="translate(332.500,931) rotate(-90)"><text y="4.500">170</text></g>
<g transform="translate(581,931) rotate(-90)"><text y="4.500">14</text></g><g transform="translate(597,931) rotate(-90)"><text y="4.500">170</text></g>
<g transform="translate(715,931) rotate(-90)"><text y="4.500">14</text></g><g transform="translate(731,931) rotate(-90)"><text y="4.500">170</text></g>
<g transform="translate(1106,931) rotate(-90)"><text y="4.500">14</text></g><g transform="translate(1122,931) rotate(-90)"><text y="4.500">170</text></g>
<g transform="translate(1241,931) rotate(-90)"><text y="4.500">14</text></g><g transform="translate(1257,931) rotate(-90)"><text y="4.500">170</text></g>
<g transform="translate(1631,931) rotate(-90)"><text y="4.500">14</text></g><g transform="translate(1647,931) rotate(-90)"><text y="4.500">170</text></g>
<g transform="translate(1765,931) rotate(-90)"><text y="4.500">14</text></g><g transform="translate(1781,931) rotate(-90)"><text y="4.500">170</text></g>
<g transform="translate(2157,931) rotate(-90)"><text y="4.500">14</text></g><g transform="translate(2173,931) rotate(-90)"><text y="4.500">170</text></g>
<g transform="translate(2291,931) rotate(-90)"><text y="4.500">14</text></g><g transform="translate(2307,931) rotate(-90)"><text y="4.500">170</text></g>
<g transform="translate(2681,931) rotate(-90)"><text y="4.500">11</text></g><g transform="translate(2697,931) rotate(-90)"><text y="4.500">170</text></g>

<!-- elect & fire room B -->
<text x="2823" y="1257.500">ELECT.</text><text x="2823" y="1272.500">86 SF</text><text x="2823" y="1288.500">S-1</text><text x="2823" y="1302.500">86 / 300 =</text><text x="2823" y="1317.500">1 OCC.</text>
<text x="2821" y="1334.500">1</text><text x="2821" y="1350.500">170</text><text x="2821" y="1381">1</text><text x="2821" y="1398">170</text>
<text x="2729" y="1313.500">FE</text><text x="2674" y="1393.500">FE</text>
<text x="2694" y="1459.500">FIRE CONTROL</text><text x="2694" y="1474">ROOM</text><text x="2694" y="1489.500">55 SF</text><text x="2694" y="1500">S-1</text><text x="2694" y="1514">55 / 300 =</text><text x="2694" y="1528.500">1 OCC.</text>
<text x="2762" y="1472.500">1</text>

<text class="big" x="483" y="1632">CODE PLAN - BUILDING B</text>
<rect x="477" y="1635" width="1987" height="2" fill="#222"/>
<text class="sc" x="482" y="1651">SCALE:&#160;&#160;3/32" = 1'-0"</text>
</svg>
</body></html>
